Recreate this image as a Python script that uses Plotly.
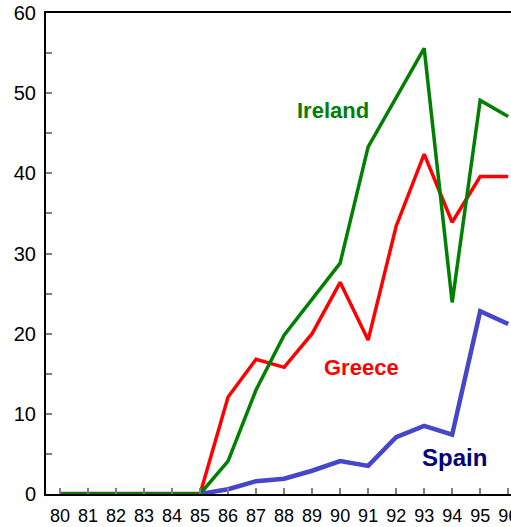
import plotly.graph_objects as go

# years (x) and series values
years = list(range(80, 97))
year_labels = [str(y) for y in years]
ireland = [0, 0, 0, 0, 0, 0, 4.1, 13.0, 19.8, 24.3, 28.8, 43.3, 49.5, 55.6, 23.9, 49.1, 47.1]
greece = [0, 0, 0, 0, 0, 0, 12.1, 16.8, 15.8, 20.0, 26.4, 19.2, 33.4, 42.4, 33.9, 39.6, 39.6]
spain = [0, 0, 0, 0, 0, 0, 0.6, 1.6, 1.9, 2.9, 4.1, 3.5, 7.1, 8.5, 7.4, 22.8, 21.2]

fig = go.Figure()
fig.add_trace(go.Scatter(x=years, y=spain, mode='lines', name='Spain',
                         line=dict(color='#4646c8', width=4.5)))
fig.add_trace(go.Scatter(x=years, y=greece, mode='lines', name='Greece',
                         line=dict(color='#ff0000', width=3.5)))
fig.add_trace(go.Scatter(x=years, y=ireland, mode='lines', name='Ireland',
                         line=dict(color='#008000', width=3.5)))

# series labels
fam = 'Liberation Sans, Arial'
fig.add_annotation(x=89.75, y=47.9, text='<b>Ireland</b>', showarrow=False,
                   font=dict(color='#008000', family=fam, size=22))
fig.add_annotation(x=90.75, y=15.8, text='<b>Greece</b>', showarrow=False,
                   font=dict(color='#ff0000', family=fam, size=22))
fig.add_annotation(x=94.1, y=4.5, text='<b>Spain</b>', showarrow=False,
                   font=dict(color='#000080', family=fam, size=24))

fig.update_layout(
    width=511, height=527,
    margin=dict(l=46, r=0, t=13, b=33),
    paper_bgcolor='white', plot_bgcolor='white',
    showlegend=False,
    font=dict(family=fam, color='black'),
)
fig.update_xaxes(range=[79.5, 96.1], tickmode='array', tickvals=years, ticktext=year_labels,
                 automargin=False, ticklabeloverflow='allow', ticklabelstandoff=4,
                 showgrid=False, zeroline=False, showline=True, linecolor='black', linewidth=2,
                 mirror=True, ticks='inside', tickcolor='gray', ticklen=6, tickwidth=2,
                 tickfont=dict(size=18))
fig.update_yaxes(range=[0, 60], tickvals=[0, 10, 20, 30, 40, 50, 60],
                 automargin=False,
                 showgrid=False, zeroline=False, showline=True, linecolor='black', linewidth=2,
                 ticks='inside', tickcolor='gray', ticklen=6, tickwidth=2,
                 minor=dict(dtick=5, ticks='inside', ticklen=6, tickcolor='gray', tickwidth=2),
                 tickfont=dict(size=20), ticklabelstandoff=4)

# drop the page margin so the figure sits at the window corner
fig.write_html("out.html", config={'displayModeBar': False},
               post_script="document.body.style.margin='0';document.body.style.overflow='hidden';")
